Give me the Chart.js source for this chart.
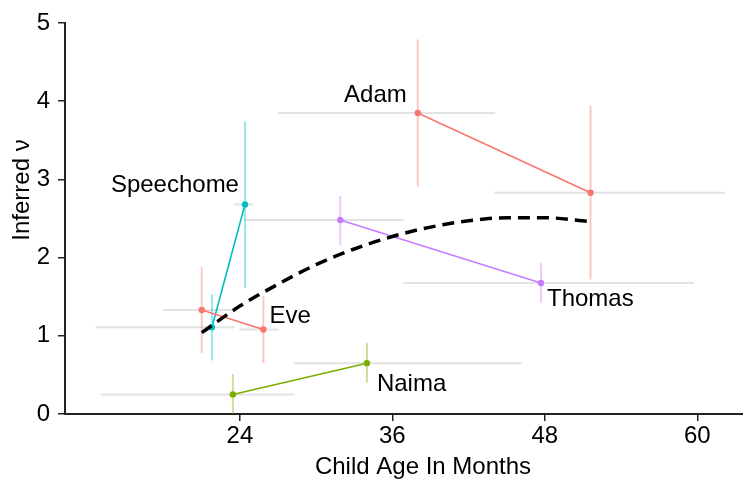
<!DOCTYPE html>
<html><head><meta charset="utf-8">
<script src="https://cdn.jsdelivr.net/npm/chart.js@4/dist/chart.umd.min.js"></script>
<style>html,body{margin:0;padding:0;background:#fff;}canvas{display:block;}</style>
</head><body>
<canvas id="c" width="743" height="482"></canvas>
<script>
// ---- tick labels ----
const xTicks = [24, 36, 48, 60];
const yTicks = [0, 1, 2, 3, 4, 5];

// ---- child names ----
const childNames = ["Adam", "Eve", "Speechome", "Thomas", "Naima"];

// ---- Adam ----
const adamAge     = [38.0, 51.6];
const adamNu      = [3.85, 2.83];
const adamNuLow   = [2.91, 1.72];
const adamNuHigh  = [4.79, 3.94];
const adamAgeLow  = [27.0, 44.0];
const adamAgeHigh = [44.1, 62.2];

// ---- Eve ----
const eveAge     = [21.0, 25.85];
const eveNu      = [1.33, 1.08];
const eveNuLow   = [0.78, 0.65];
const eveNuHigh  = [1.88, 1.51];
const eveAgeLow  = [17.95, 23.95];
const eveAgeHigh = [23.75, 27.05];

// ---- Speechome ----
const speechomeAge     = [21.8, 24.4];
const speechomeNu      = [1.11, 2.68];
const speechomeNuLow   = [0.685, 1.61];
const speechomeNuHigh  = [1.53, 3.74];
const speechomeAgeLow  = [12.65, 23.55];
const speechomeAgeHigh = [23.6, 25.05];

// ---- Thomas ----
const thomasAge     = [31.9, 47.7];
const thomasNu      = [2.48, 1.675];
const thomasNuLow   = [2.16, 1.42];
const thomasNuHigh  = [2.79, 1.93];
const thomasAgeLow  = [24.4, 36.85];
const thomasAgeHigh = [36.9, 59.75];

// ---- Naima ----
const naimaAge     = [23.45, 34.0];
const naimaNu      = [0.25, 0.65];
const naimaNuLow   = [0.0, 0.40];
const naimaNuHigh  = [0.51, 0.91];
const naimaAgeLow  = [13.05, 28.25];
const naimaAgeHigh = [28.3, 46.2];

// ---- overall trend (dashed) ----
const trendAge = [21.0, 24, 27, 30, 33, 36, 39, 42, 45, 48, 51.6];
const trendNu  = [1.04, 1.38, 1.66, 1.91, 2.11, 2.27, 2.39, 2.47, 2.51, 2.51, 2.46];

// ---- axis titles ----
const xTitle = 'Child Age In Months';
const yTitle = 'Inferred \u03BD';

// ---- styling ----
const FONT = '"Liberation Sans", Arial, Helvetica, sans-serif';
const FS = 24;
const RED = '#F8766D', GREEN = '#7CAE00', CYAN = '#00BFC4', PURPLE = '#C77CFF';
const children = [
  {name: childNames[0], age: adamAge, nu: adamNu, nuLow: adamNuLow, nuHigh: adamNuHigh, ageLow: adamAgeLow, ageHigh: adamAgeHigh, color: RED, light: 'rgba(248,118,109,0.4)'},
  {name: childNames[1], age: eveAge, nu: eveNu, nuLow: eveNuLow, nuHigh: eveNuHigh, ageLow: eveAgeLow, ageHigh: eveAgeHigh, color: RED, light: 'rgba(248,118,109,0.4)'},
  {name: childNames[2], age: speechomeAge, nu: speechomeNu, nuLow: speechomeNuLow, nuHigh: speechomeNuHigh, ageLow: speechomeAgeLow, ageHigh: speechomeAgeHigh, color: CYAN, light: 'rgba(0,191,196,0.4)'},
  {name: childNames[3], age: thomasAge, nu: thomasNu, nuLow: thomasNuLow, nuHigh: thomasNuHigh, ageLow: thomasAgeLow, ageHigh: thomasAgeHigh, color: PURPLE, light: 'rgba(199,124,255,0.4)'},
  {name: childNames[4], age: naimaAge, nu: naimaNu, nuLow: naimaNuLow, nuHigh: naimaNuHigh, ageLow: naimaAgeLow, ageHigh: naimaAgeHigh, color: GREEN, light: 'rgba(124,174,0,0.4)'}
];
// label placement: which point it hangs on, pixel offset, alignment
const labelPlacement = {
  Adam:      {point: 0, dx: -11, dy: -11, align: 'right'},
  Eve:       {point: 1, dx: 6,   dy: -7,  align: 'left'},
  Speechome: {point: 1, dx: -6,  dy: -12, align: 'right'},
  Thomas:    {point: 1, dx: 6,   dy: 23,  align: 'left'},
  Naima:     {point: 1, dx: 10,  dy: 28,  align: 'left'}
};

const datasets = [];
datasets.push({
  data: trendAge.map((x, i) => ({x, y: trendNu[i]})),
  showLine: true, borderColor: '#000', borderWidth: 3.5, borderDash: [12, 7],
  pointRadius: 0, fill: false, cubicInterpolationMode: 'monotone', order: 0
});
children.forEach(c => {
  datasets.push({
    data: c.age.map((x, i) => ({x, y: c.nu[i]})),
    showLine: true, borderColor: c.color, backgroundColor: c.color, borderWidth: 1.6,
    pointRadius: 3.2, pointBorderWidth: 0, pointBackgroundColor: c.color, order: 1
  });
  c.age.forEach((x, i) => {
    datasets.push({
      data: [{x, y: c.nuLow[i]}, {x, y: c.nuHigh[i]}],
      showLine: true, borderColor: c.light, borderWidth: 2, pointRadius: 0, order: 2
    });
    datasets.push({
      data: [{x: c.ageLow[i], y: c.nu[i]}, {x: c.ageHigh[i], y: c.nu[i]}],
      showLine: true, borderColor: '#e3e3e3', borderWidth: 2, pointRadius: 0, order: 3
    });
  });
});

const textPlugin = {
  id: 'textPlugin',
  afterDatasetsDraw(chart) {
    const ctx = chart.ctx, xs = chart.scales.x, ys = chart.scales.y;
    ctx.save();
    ctx.font = FS + 'px ' + FONT;
    ctx.fillStyle = '#000';
    ctx.textBaseline = 'alphabetic';
    children.forEach(c => {
      const p = labelPlacement[c.name];
      const px = xs.getPixelForValue(c.age[p.point]) + p.dx;
      const py = ys.getPixelForValue(c.nu[p.point]) + p.dy;
      ctx.textAlign = p.align;
      ctx.fillText(c.name, px, py);
    });
    ctx.restore();
  },
  afterDraw(chart) {
    const ctx = chart.ctx;
    ctx.save();
    ctx.font = FS + 'px ' + FONT;
    ctx.fillStyle = '#000';
    ctx.textAlign = 'center';
    ctx.textBaseline = 'middle';
    ctx.fillText(xTitle, 423, 467);
    ctx.translate(22, 190);
    ctx.rotate(-Math.PI / 2);
    ctx.fillText(yTitle, 0, 0);
    ctx.restore();
  }
};

new Chart(document.getElementById('c'), {
  type: 'scatter',
  data: {datasets},
  options: {
    responsive: false, animation: false, devicePixelRatio: 1,
    layout: {autoPadding: false, padding: {top: 23, right: 0, left: 0, bottom: 0}},
    plugins: {legend: {display: false}, tooltip: {enabled: false}},
    scales: {
      x: {
        type: 'linear', min: 10.235, max: 63.6,
        afterBuildTicks: s => { s.ticks = xTicks.map(v => ({value: v})); },
        afterFit: s => { s.height = 68; },
        grid: {display: true, drawOnChartArea: false, drawTicks: true, tickLength: 7, color: '#222', lineWidth: 1.5},
        border: {display: true, color: '#222', width: 2},
        ticks: {font: {family: FONT, size: FS}, color: '#000', padding: 1, maxRotation: 0, autoSkip: false},
        title: {display: false}
      },
      y: {
        type: 'linear', min: 0, max: 5,
        afterBuildTicks: s => { s.ticks = yTicks.map(v => ({value: v})); },
        afterFit: s => { s.width = 65; },
        grid: {display: true, drawOnChartArea: false, drawTicks: true, tickLength: 7, color: '#222', lineWidth: 1.5},
        border: {display: true, color: '#222', width: 2},
        ticks: {font: {family: FONT, size: FS}, color: '#000', padding: 8},
        title: {display: false}
      }
    }
  },
  plugins: [textPlugin]
});
</script>
</body></html>
